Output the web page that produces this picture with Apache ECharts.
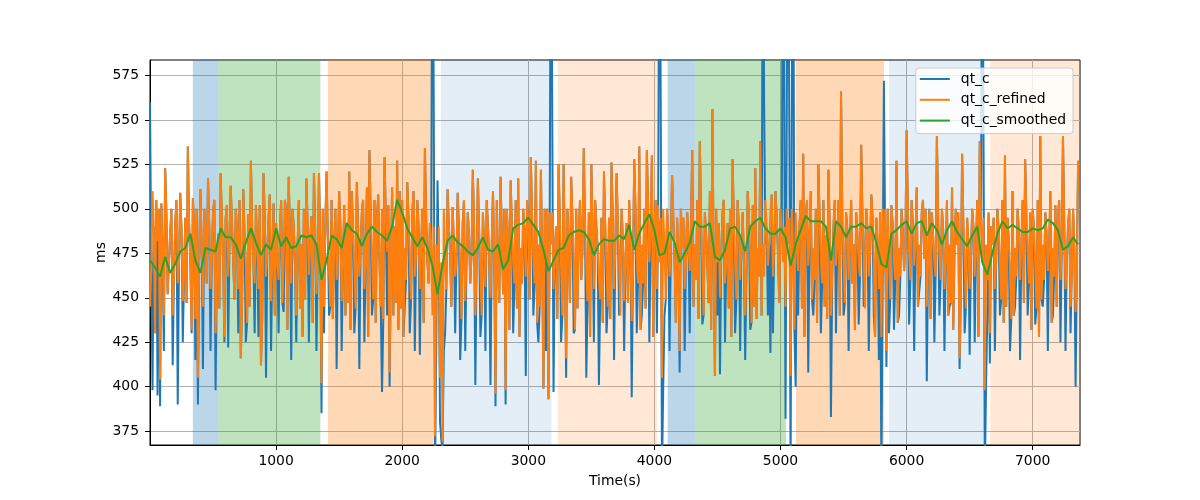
<!DOCTYPE html>
<html><head><meta charset="utf-8">
<script src="https://cdn.jsdelivr.net/npm/echarts@6/dist/echarts.min.js"></script>
<style>html,body{margin:0;padding:0;background:#fff}#c{width:1200px;height:500px}</style>
</head><body><div id="c"></div>
<script>
const seriesNames = ['qt_c', 'qt_c_refined', 'qt_c_smoothed'];
const sampleStep = 10;   // seconds between qt_c / qt_c_refined samples
const smoothStep = 40;   // seconds between qt_c_smoothed samples

const qt_c = [
560,470,398,490,430,505,395,500,389,503,478,420,523,498,452,470,486,500,412,462,
492,505,390,470,509,488,425,462,495,447,535,492,470,430,506,490,415,500,390,472,
511,478,410,500,490,458,517,490,420,472,498,505,398,462,486,444,520,495,470,425,
495,502,422,480,513,492,470,449,500,488,430,505,416,448,511,485,425,436,497,445,
527,490,470,430,502,478,428,502,412,438,520,495,405,475,495,508,420,470,503,440,
492,470,430,488,505,447,442,505,498,432,518,485,415,500,490,468,425,478,505,444,
480,428,500,449,517,490,425,480,496,436,520,488,420,470,520,480,385,500,430,490,
521,485,440,445,505,438,478,500,410,475,510,490,420,468,502,440,490,447,521,432,
510,488,430,444,515,490,410,478,498,505,425,470,512,428,533,498,440,449,505,436,
495,508,470,445,397,438,529,495,440,502,400,470,512,440,490,447,527,432,510,444,
505,428,445,460,515,495,430,449,498,510,420,475,505,490,418,478,500,436,534,495,
470,458,492,480,720,560,350,420,516,470,380,370,365,420,430,455,511,490,475,445,
501,480,430,470,509,488,415,438,492,505,420,470,498,485,458,475,522,490,401,468,
517,488,428,440,498,480,420,505,490,472,401,480,510,470,389,505,470,447,518,485,
452,500,390,500,480,432,516,490,430,458,505,444,517,428,478,458,500,485,406,505,
490,449,529,495,440,458,527,436,425,445,522,470,399,500,420,500,393,498,720,550,
397,475,490,438,525,495,425,440,525,470,405,500,480,447,518,495,430,432,500,444,
485,505,460,478,534,490,405,448,498,428,525,488,425,505,490,478,401,449,495,436,
521,490,430,445,495,438,526,495,415,478,520,492,440,440,500,482,420,470,492,447,
505,480,394,465,528,500,430,458,535,432,440,458,500,444,533,502,425,485,530,428,
490,505,430,502,720,560,350,400,440,449,500,485,420,475,519,495,470,436,495,470,
408,500,478,495,420,470,498,482,430,490,533,445,480,460,505,438,538,495,435,440,
498,485,468,447,510,432,556,470,406,500,440,492,407,475,498,505,425,470,492,444,
500,428,528,492,430,449,505,488,420,478,498,470,415,462,510,495,432,436,502,445,
523,438,478,462,538,440,700,560,480,490,440,480,419,508,430,478,510,495,475,447,
500,485,720,550,382,560,720,540,350,560,720,432,400,480,440,490,505,444,531,428,
495,505,408,482,510,449,440,460,500,436,525,495,430,458,505,445,485,438,522,490,
383,462,490,505,430,480,505,440,566,495,440,447,498,488,420,478,505,458,480,432,
498,485,435,462,536,495,445,444,500,488,420,475,508,495,440,428,495,480,415,498,
350,460,572,480,411,500,430,449,502,490,432,460,527,436,440,462,500,488,465,478,
544,500,435,460,505,490,420,482,512,445,445,462,498,505,472,500,403,470,500,438,
498,485,425,462,541,498,440,460,500,488,420,472,505,440,445,447,512,432,478,500,
480,498,410,450,531,492,430,444,495,480,418,472,500,490,425,478,505,428,538,492,
720,540,350,400,440,498,413,490,480,495,420,470,500,488,440,449,505,436,530,445,
495,482,420,438,510,440,445,462,500,488,415,478,505,447,528,495,440,458,498,432,
500,488,435,444,505,428,541,449,445,460,498,485,420,478,510,436,440,462,502,445,
495,505,425,478,541,492,420,470,490,500,430,465,500,478,400,465,527
];

const qt_c_refined = [
445,468,510,490,430,505,482,500,404,503,478,440,523,498,452,470,486,500,440,462,
492,505,458,470,509,488,448,462,495,447,535,492,470,432,506,490,438,500,405,472,
511,478,445,500,490,458,517,490,455,472,498,505,430,462,486,444,520,495,470,428,
495,502,462,480,513,492,470,449,500,488,455,505,416,448,511,485,468,436,497,445,
527,490,470,458,502,478,455,502,412,438,520,495,462,475,495,508,448,470,503,440,
492,470,460,488,505,447,472,505,498,432,518,485,458,500,490,468,440,478,505,444,
480,428,500,449,517,490,463,480,496,436,520,488,452,470,520,480,402,500,445,490,
521,485,466,445,505,438,478,500,460,475,510,490,448,468,502,440,490,447,521,432,
510,488,470,444,515,490,462,478,498,505,455,470,512,428,533,498,475,449,505,436,
495,508,470,445,500,438,529,495,476,502,408,470,512,440,490,447,527,432,510,444,
505,428,478,460,515,495,470,449,498,510,462,475,505,490,455,478,500,436,534,495,
470,458,492,480,440,490,372,480,452,490,405,470,369,500,470,455,511,490,475,445,
501,480,462,470,509,488,470,438,492,505,448,470,498,485,458,475,522,490,440,468,
517,488,465,440,498,480,456,505,490,472,450,480,510,470,396,505,470,447,518,485,
452,500,398,500,480,432,516,490,470,458,505,444,517,428,478,458,500,485,462,505,
490,449,529,495,472,458,527,436,480,445,522,470,399,500,470,500,393,498,480,498,
455,475,490,438,525,495,468,440,525,470,416,500,480,447,518,495,470,432,500,444,
485,505,460,478,534,490,465,448,498,428,525,488,455,505,490,478,462,449,495,436,
521,490,468,445,495,438,526,495,455,478,520,492,470,440,500,482,448,470,492,447,
505,480,437,465,528,500,472,458,535,432,480,458,500,444,533,502,470,485,530,428,
490,505,455,502,470,495,405,500,478,449,500,485,462,475,519,495,470,436,495,470,
420,500,478,495,455,470,498,482,465,490,533,445,480,460,505,438,538,495,470,440,
498,485,468,447,510,432,556,470,406,500,470,492,450,475,498,505,458,470,492,444,
500,428,528,492,470,449,505,488,460,478,498,470,440,462,510,495,475,436,502,445,
523,438,478,462,538,440,480,462,505,490,468,480,498,508,462,478,510,495,475,447,
500,485,470,490,445,500,480,495,406,500,470,432,498,480,465,490,505,444,531,428,
495,505,468,482,510,449,478,460,500,436,525,495,472,458,505,445,485,438,522,490,
440,462,490,505,468,480,505,440,566,495,470,447,498,488,460,478,505,458,480,432,
498,485,470,462,536,495,475,444,500,488,462,475,508,495,472,428,495,480,455,498,
428,500,465,500,420,500,480,449,502,490,470,460,527,436,478,462,500,488,465,478,
544,500,475,460,505,490,468,482,512,445,480,462,498,505,472,500,445,470,500,438,
498,485,470,462,541,498,475,460,500,488,455,472,505,440,480,447,512,432,478,500,
480,498,416,450,531,492,470,444,495,480,455,472,500,490,462,478,505,428,538,492,
470,495,398,480,460,498,430,490,480,495,455,470,500,488,470,449,505,436,530,445,
495,482,465,438,510,440,478,462,500,488,460,478,505,447,528,495,475,458,498,432,
500,488,470,444,505,428,541,449,480,460,498,485,465,478,510,436,478,462,502,445,
495,505,460,478,541,492,455,470,490,500,445,465,500,478,442,465,527
];

const qt_c_smoothed = [
471,467,462,473,464,469,476,478,486,471,
464,478,477,476,489,484,484,480,472,481,
489,481,474,480,477,489,479,484,478,479,
485,484,485,480,460,471,485,483,478,492,
488,486,479,486,490,487,485,482,490,505,
498,489,484,479,484,478,468,452,469,482,
485,481,479,476,474,478,484,477,476,480,
466,471,489,491,492,495,491,487,477,465,
471,477,478,485,487,488,487,483,474,480,
483,482,482,485,483,491,477,486,492,497,
488,474,475,487,481,470,475,481,493,490,
490,492,473,471,477,489,490,485,476,490,
493,495,489,486,486,489,484,468,480,488,
496,493,493,493,490,471,493,490,484,490,
490,492,489,490,481,469,467,486,488,491,
493,486,492,493,485,492,488,480,488,493,
487,483,479,485,490,470,463,475,486,493,
489,491,489,487,487,489,488,489,494,492,
488,477,479,484,480
];

// experiment stages: start (s), end (s), kind
const stageStarts = [340, 544, 1411, 2306, 3234, 4105, 4324, 5123, 5861, 6663];
const stageEnds   = [544, 1351, 2244, 3184, 4020, 4324, 5044, 5821, 6609, 7375];
const stageKinds  = ['A','B','C','D','E','A','B','C','D','E'];

const xTicks = [1000, 2000, 3000, 4000, 5000, 6000, 7000];
const yTicks = [375, 400, 425, 450, 475, 500, 525, 550, 575];
const xRange = [0, 7375];
const yRange = [367.2, 583.7];

// ---- styling ----
const stageColors = {
  A: 'rgba(31,119,180,0.3)',
  B: 'rgba(44,160,44,0.3)',
  C: 'rgba(255,127,14,0.3)',
  D: 'rgba(31,119,180,0.12)',
  E: 'rgba(255,127,14,0.17)'
};
const lineColors = ['#1f77b4', '#ff7f0e', '#2ca02c'];
const FONT = 'DejaVu Sans';
const FS = 13.9;

const toPairs = (vals, step) => vals.map((v, i) => [i * step, v]);

const chart = echarts.init(document.getElementById('c'), null, {renderer: 'canvas'});
const axisCommon = {
  z: 1,
  nameMoveOverlap: false,
  axisLine: {show: true, onZero: false, lineStyle: {color: '#000', width: 1}},
  axisTick: {show: true, inside: false, length: 5, lineStyle: {color: '#000', width: 1}},
  splitLine: {show: true, lineStyle: {color: '#b0b0b0', width: 1}},
  nameTextStyle: {fontFamily: FONT, fontSize: FS, color: '#000'}
};

chart.setOption({
  animation: false,
  backgroundColor: '#fff',
  grid: {left: 150, right: 120, top: 60, bottom: 55, show: true, borderColor: '#000', borderWidth: 1, backgroundColor: 'transparent'},
  xAxis: Object.assign({}, axisCommon, {
    type: 'value', min: xRange[0], max: xRange[1],
    axisTick: Object.assign({}, axisCommon.axisTick, {customValues: xTicks}),
    axisLabel: {customValues: xTicks, formatter: v => String(v), fontFamily: FONT, fontSize: FS, color: '#000', margin: 9},
    name: 'Time(s)', nameLocation: 'middle', nameGap: 29
  }),
  yAxis: Object.assign({}, axisCommon, {
    type: 'value', min: yRange[0], max: yRange[1],
    axisTick: Object.assign({}, axisCommon.axisTick, {customValues: yTicks}),
    axisLabel: {customValues: yTicks, formatter: v => String(v), fontFamily: FONT, fontSize: FS, color: '#000', margin: 11},
    name: 'ms', nameLocation: 'middle', nameGap: 42, nameRotate: 90
  }),
  legend: {
    data: seriesNames, orient: 'vertical', right: 127, top: 68,
    icon: 'rect', itemWidth: 30, itemHeight: 2, itemGap: 4.8,
    padding: [3, 7, 5, 4],
    backgroundColor: 'rgba(255,255,255,0.8)', borderColor: '#cccccc', borderWidth: 1, borderRadius: 3,
    textStyle: {fontFamily: FONT, fontSize: FS, color: '#000', lineHeight: 16, padding: [0, 0, 0, 6]}
  },
  series: [
    {
      type: 'line', name: 'stages', data: [], z: 0, silent: true,
      markArea: {
        silent: true,
        data: stageStarts.map((s, i) => [
          {xAxis: s, itemStyle: {color: stageColors[stageKinds[i]]}},
          {xAxis: stageEnds[i]}
        ])
      }
    },
    {
      type: 'line', name: seriesNames[0], data: toPairs(qt_c, sampleStep), z: 2,
      showSymbol: false, symbol: 'none', clip: true,
      lineStyle: {color: lineColors[0], width: 2}, itemStyle: {color: lineColors[0]}
    },
    {
      type: 'line', name: seriesNames[1], data: toPairs(qt_c_refined, sampleStep), z: 2,
      showSymbol: false, symbol: 'none', clip: true,
      lineStyle: {color: lineColors[1], width: 2}, itemStyle: {color: lineColors[1]}
    },
    {
      type: 'line', name: seriesNames[2], data: toPairs(qt_c_smoothed, smoothStep), z: 2,
      showSymbol: false, symbol: 'none', clip: true,
      lineStyle: {color: lineColors[2], width: 2}, itemStyle: {color: lineColors[2]}
    }
  ]
});
</script>
</body></html>
